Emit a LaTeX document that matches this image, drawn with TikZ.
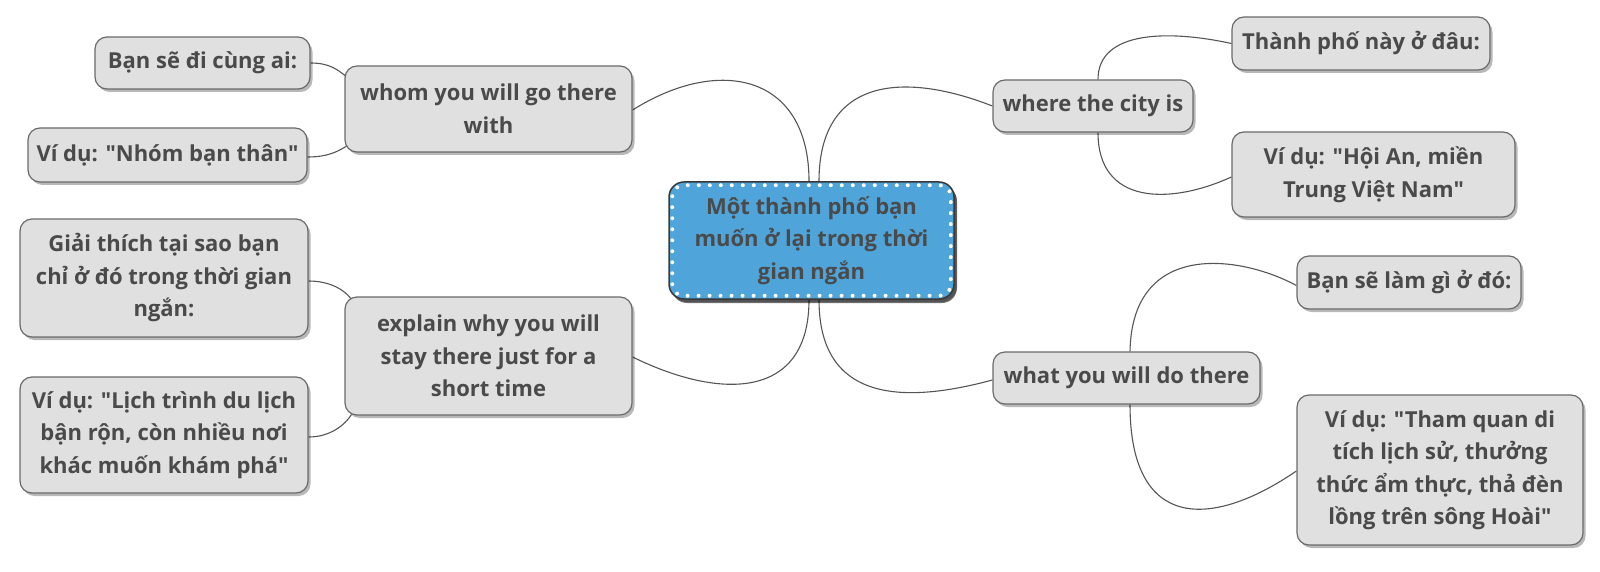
\documentclass[tikz,border=0pt]{standalone}
\usepackage{fontspec}
\setmainfont{Open Sans}[Ligatures=TeXOff]
\usetikzlibrary{shadows,calc,backgrounds}
\definecolor{txt}{HTML}{4A4A4A}
\definecolor{boxfill}{HTML}{E0E0E0}
\definecolor{boxline}{HTML}{6A6A6A}
\definecolor{linkc}{HTML}{555555}
\definecolor{centerblue}{HTML}{4FA4DA}
\definecolor{centerline}{HTML}{3A3A3A}
\begin{document}
\begin{tikzpicture}[x=1pt,y=-1pt,
  box/.style={draw=boxline, line width=1.2pt, fill=boxfill, rounded corners=12pt,
    align=center, text=txt, font=\fontsize{22}{32.5}\selectfont\bfseries, inner sep=0pt,
    drop shadow={shadow xshift=2.5pt, shadow yshift=-3pt, fill=black, opacity=0.28}},
  centerbox/.style={box, draw=centerline, line width=1.5pt, fill=centerblue, rounded corners=15pt,
    drop shadow={shadow xshift=3pt, shadow yshift=-4pt, fill=black, opacity=0.55}},
  link/.style={draw=linkc, line width=1.1pt},
  whitedots/.style={draw=white, line width=4pt, line cap=round, dash pattern=on 0pt off 11pt, rounded corners=11pt}]
\useasboundingbox (0,0) rectangle (1600,572);

% nodes
\node[centerbox, minimum width=285pt, minimum height=117pt] (center) at (811.5,240.5)
  {Một thành phố bạn\\muốn ở lại trong thời\\gian ngắn};
\draw[whitedots] ($(center.north west)+(4,4)$) rectangle ($(center.south east)+(-4,-4)$);

\node[box, minimum width=287pt, minimum height=86pt] (whom) at (488.5,109) {whom you will go there\\with};
\node[box, minimum width=215pt, minimum height=52pt] (bansedi) at (202.5,63) {Bạn sẽ đi cùng ai:};
\node[box, minimum width=279pt, minimum height=54pt] (nhom) at (167.5,155) {Ví dụ: "Nhóm bạn thân"};

\node[box, minimum width=287pt, minimum height=118pt] (explain) at (488.5,356) {explain why you will\\stay there just for a\\short time};
\node[box, minimum width=288pt, minimum height=118pt] (giai) at (164,278) {Giải thích tại sao bạn\\chỉ ở đó trong thời gian\\ngắn:};
\node[box, minimum width=288pt, minimum height=116pt] (lich) at (164,435) {Ví dụ: "Lịch trình du lịch\\bận rộn, còn nhiều nơi\\khác muốn khám phá"};

\node[box, minimum width=200pt, minimum height=52pt] (where) at (1093,106) {where the city is};
\node[box, minimum width=258pt, minimum height=53pt] (thanhpho) at (1361,43.5) {Thành phố này ở đâu:};
\node[box, minimum width=283pt, minimum height=85pt] (hoian) at (1373.5,174.5) {Ví dụ: "Hội An, miền\\Trung Việt Nam"};

\node[box, minimum width=267pt, minimum height=52pt] (what) at (1126.5,378) {what you will do there};
\node[box, minimum width=224pt, minimum height=53pt] (lam) at (1409,282.5) {Bạn sẽ làm gì ở đó:};
\node[box, minimum width=286pt, minimum height=150pt] (thamquan) at (1440,470) {Ví dụ: "Tham quan di\\tích lịch sử, thưởng\\thức ẩm thực, thả đèn\\lồng trên sông Hoài"};

% connectors
\begin{scope}[on background layer]
\draw[link] ($(center.north)+(-2.5,0)$) .. controls (809,75) and (720,55) .. ($(whom.east)+(0,1)$);
\draw[link] ($(center.south)+(-2.5,0)$) .. controls (809,400) and (720,400) .. ($(explain.east)+(0,1)$);
\draw[link] ($(center.north)+(7.5,0)$) .. controls (819,80) and (900,70) .. (where.west);
\draw[link] ($(center.south)+(7.5,0)$) .. controls (819,400) and (900,405) .. ($(what.west)+(0,2)$);

\draw[link] (bansedi.east) .. controls (330,63) and (338,70) .. ($(whom.north west)+(3,12)$);
\draw[link] ($(nhom.east)+(0,2)$) .. controls (330,157) and (340,150) .. ($(whom.south west)+(3,-7)$);
\draw[link] ($(giai.east)+(0,3)$) .. controls (330,281) and (345,290) .. ($(explain.north west)+(7,3)$);
\draw[link] ($(lich.east)+(0,2)$) .. controls (330,437) and (345,425) .. ($(explain.south west)+(7,-1)$);

\draw[link] ($(where.north)+(5,0)$) .. controls (1098,30) and (1170,30) .. (thanhpho.west);
\draw[link] ($(where.south)+(5,0)$) .. controls (1098,205) and (1170,205) .. ($(hoian.west)+(0,2.5)$);
\draw[link] ($(what.north)+(3.5,0)$) .. controls (1132,240) and (1240,255) .. ($(lam.west)+(0,3)$);
\draw[link] ($(what.south)+(3.5,0)$) .. controls (1130,530) and (1210,530) .. ($(thamquan.west)+(0,1)$);
\end{scope}
\end{tikzpicture}
\end{document}
